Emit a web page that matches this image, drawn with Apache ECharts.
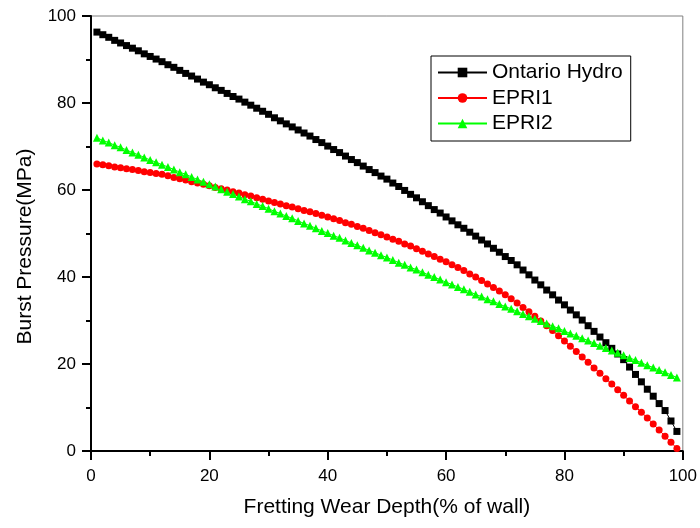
<!DOCTYPE html>
<html>
<head>
<meta charset="utf-8">
<script src="https://cdn.jsdelivr.net/npm/echarts@6/dist/echarts.min.js"></script>
<style>
html,body{margin:0;padding:0;background:#fff;}
#chart{width:700px;height:528px;}
</style>
</head>
<body>
<div id="chart"></div>
<script>
const depth = [1,2,3,4,5,6,7,8,9,10,11,12,13,14,15,16,17,18,19,20,21,22,23,24,25,26,27,28,29,30,31,32,33,34,35,36,37,38,39,40,41,42,43,44,45,46,47,48,49,50,51,52,53,54,55,56,57,58,59,60,61,62,63,64,65,66,67,68,69,70,71,72,73,74,75,76,77,78,79,80,81,82,83,84,85,86,87,88,89,90,91,92,93,94,95,96,97,98,99];

const ontarioHydro = [96.3,95.7,95.1,94.4,93.8,93.2,92.6,92.0,91.3,90.7,90.1,89.5,88.8,88.2,87.5,86.8,86.2,85.5,84.8,84.2,83.5,82.9,82.2,81.5,80.9,80.2,79.5,78.8,78.1,77.4,76.6,75.9,75.2,74.5,73.8,73.1,72.4,71.6,70.9,70.1,69.3,68.6,67.8,67.0,66.3,65.5,64.7,64.0,63.2,62.5,61.6,60.8,59.9,59.0,58.2,57.3,56.4,55.5,54.7,53.8,52.9,52.0,51.2,50.3,49.4,48.5,47.6,46.6,45.7,44.7,43.8,42.8,41.6,40.5,39.3,38.2,37.0,35.9,34.7,33.6,32.4,31.3,30.1,28.8,27.5,26.2,24.9,23.6,22.3,21.0,19.3,17.6,15.9,14.2,12.6,10.9,9.3,6.9,4.5];

const epri1 = [66.0,65.8,65.6,65.3,65.1,64.9,64.7,64.5,64.2,64.0,63.8,63.6,63.3,62.9,62.6,62.3,61.9,61.6,61.3,61.0,60.6,60.3,60.0,59.6,59.3,58.9,58.6,58.2,57.9,57.5,57.1,56.8,56.4,56.1,55.7,55.3,55.0,54.6,54.2,53.8,53.4,53.0,52.5,52.1,51.6,51.2,50.7,50.2,49.7,49.2,48.7,48.2,47.6,47.1,46.5,45.9,45.3,44.7,44.1,43.5,42.8,42.2,41.5,40.7,40.0,39.2,38.4,37.6,36.8,35.9,35.0,34.0,33.0,32.0,31.0,29.9,28.8,27.7,26.5,25.3,24.1,22.9,21.6,20.4,19.1,17.9,16.6,15.4,14.1,12.8,11.5,10.2,8.9,7.6,6.2,4.8,3.4,2.0,0.6];

const epri2 = [72.0,71.4,70.9,70.3,69.8,69.2,68.6,68.1,67.5,66.9,66.4,65.8,65.3,64.7,64.1,63.6,63.0,62.4,61.9,61.3,60.8,60.2,59.6,59.1,58.5,57.9,57.4,56.8,56.3,55.7,55.1,54.6,54.0,53.5,52.9,52.3,51.8,51.2,50.6,50.1,49.5,49.0,48.4,47.8,47.3,46.7,46.1,45.6,45.0,44.5,43.9,43.3,42.8,42.2,41.7,41.1,40.5,40.0,39.4,38.8,38.3,37.7,37.2,36.6,36.0,35.5,34.9,34.4,33.8,33.2,32.7,32.1,31.5,31.0,30.4,29.9,29.3,28.7,28.2,27.6,27.0,26.5,25.9,25.4,24.8,24.2,23.7,23.1,22.6,22.0,21.4,20.9,20.3,19.7,19.2,18.6,18.1,17.5,16.9];

const seriesNames = ['Ontario Hydro', 'EPRI1', 'EPRI2'];
const xAxisTitle = 'Fretting Wear Depth(% of wall)';
const yAxisTitle = 'Burst Pressure(MPa)';

const FONT = '"Liberation Sans", Arial, sans-serif';

function pairs(vals) { return depth.map((d, i) => [d, vals[i]]); }

const chart = echarts.init(document.getElementById('chart'), null, {renderer: 'canvas'});

const axisCommon = {
  type: 'value', min: 0, max: 100, interval: 20,
  axisLine: {show: true, onZero: false, lineStyle: {color: '#000', width: 2}},
  axisTick: {show: true, length: 9, lineStyle: {color: '#000', width: 2}},
  minorTick: {show: true, splitNumber: 2, length: 5, lineStyle: {color: '#000', width: 2}},
  splitLine: {show: false},
  nameLocation: 'middle',
  axisLabel: {fontFamily: FONT, fontSize: 17, color: '#000'}
};

chart.setOption({
  animation: false,
  backgroundColor: '#fff',
  grid: {left: 91, right: 14, top: 16, bottom: 77, show: true, borderColor: '#808080', borderWidth: 1, backgroundColor: 'transparent'},
  legend: {
    orient: 'vertical', left: 431, top: 56,
    data: seriesNames,
    itemWidth: 49, itemHeight: 12, itemGap: 4.5,
    padding: [6, 8, 7, 6],
    borderColor: '#000', borderWidth: 1,
    textStyle: {fontFamily: FONT, fontSize: 21, color: '#000'}
  },
  xAxis: Object.assign({}, axisCommon, {
    name: xAxisTitle, nameGap: 46,
    nameTextStyle: {fontFamily: FONT, fontSize: 21, color: '#000'},
    axisLabel: Object.assign({}, axisCommon.axisLabel, {margin: 17})
  }),
  yAxis: Object.assign({}, axisCommon, {
    name: yAxisTitle, nameGap: 55,
    nameTextStyle: {fontFamily: FONT, fontSize: 21, color: '#000', padding: [0, 26, 0, 0]},
    axisLabel: Object.assign({}, axisCommon.axisLabel, {margin: 15})
  }),
  series: [
    {name: seriesNames[0], type: 'line', data: pairs(ontarioHydro), symbol: 'rect', symbolSize: 7,
     itemStyle: {color: '#000'}, lineStyle: {color: '#000', width: 1}},
    {name: seriesNames[1], type: 'line', data: pairs(epri1), symbol: 'circle', symbolSize: 7,
     itemStyle: {color: '#ff0000'}, lineStyle: {color: '#ff0000', width: 1}},
    {name: seriesNames[2], type: 'line', data: pairs(epri2), symbol: 'triangle', symbolSize: 8,
     itemStyle: {color: '#00ff00'}, lineStyle: {color: '#00ff00', width: 1}}
  ]
});
</script>
</body>
</html>
